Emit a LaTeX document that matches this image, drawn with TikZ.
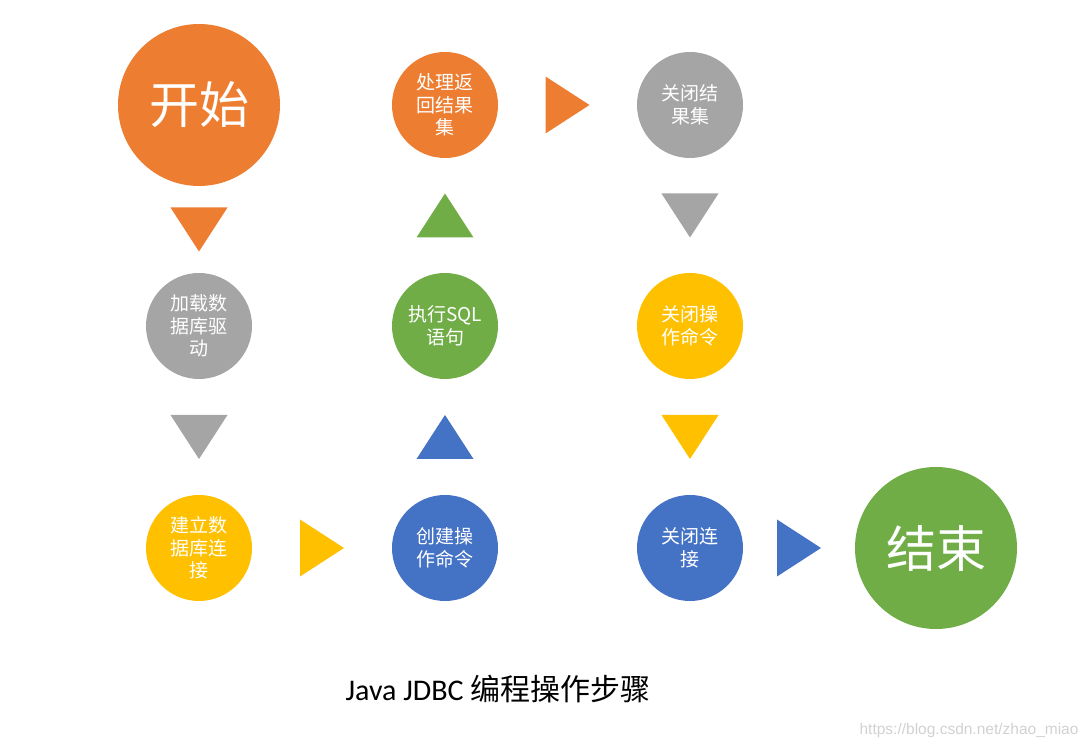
\documentclass[tikz,border=0pt]{standalone}
\usepackage{fontspec}
\setmainfont{Carlito}
\newfontfamily\cjk{Noto Sans CJK SC}
\newfontfamily\markfont{Liberation Sans}
\usetikzlibrary{calc}

\begin{document}
\begin{tikzpicture}[x=1pt, y=1pt,
    stepcircle/.style={circle, fill=#1, minimum size=106pt, inner sep=0pt, text=white,
        align=center, font=\cjk\fontsize{19}{22.5}\selectfont},
    bigcircle/.style={circle, fill=#1, minimum size=162pt, inner sep=0pt, text=white,
        font=\cjk\fontsize{50}{60}\selectfont},
    pics/pointer/.style={code={\fill[#1] (22,0) -- (-22,28.5) -- (-22,-28.5) -- cycle;}}]
    % Define colours
    \definecolor{orangeC}{HTML}{ED7D31}
    \definecolor{grayC}{HTML}{A5A5A5}
    \definecolor{greenC}{HTML}{70AD47}
    \definecolor{yellowC}{HTML}{FFC000}
    \definecolor{blueC}{HTML}{4472C4}

    % Fix the page size
    \useasboundingbox (0,0) rectangle (1087,747);

    % Top row
    \node[bigcircle=orangeC] (start) at (199,642) {开始};
    \node[stepcircle=orangeC] (result) at (445,642) {处理返\\回结果\\集};
    \node[stepcircle=grayC] (closeresult) at (690,642) {关闭结\\果集};

    % Middle row
    \node[stepcircle=grayC] (driver) at (199,421) {加载数\\据库驱\\动};
    \node[stepcircle=greenC] (execute) at (445,421) {执行SQL\\语句};
    \node[stepcircle=yellowC] (closestmt) at (690,421) {关闭操\\作命令};

    % Bottom row
    \node[stepcircle=yellowC] (connect) at (199,199) {建立数\\据库连\\接};
    \node[stepcircle=blueC] (statement) at (445,199) {创建操\\作命令};
    \node[stepcircle=blueC] (closeconn) at (690,199) {关闭连\\接};
    \node[bigcircle=greenC] (finish) at (936,199) {结束};

    % Pointers between the steps
    \pic[rotate=-90] at ($(start.south)!0.5!(driver.north)$) {pointer=orangeC};
    \pic[rotate=-90] at ($(driver.south)!0.5!(connect.north)$) {pointer=grayC};
    \pic at ($(connect.east)!0.5!(statement.west)$) {pointer=yellowC};
    \pic[rotate=90] at ($(statement.north)!0.5!(execute.south)$) {pointer=blueC};
    \pic[rotate=90] at ($(execute.north)!0.5!(result.south)$) {pointer=greenC};
    \pic at ($(result.east)!0.5!(closeresult.west)$) {pointer=orangeC};
    \pic[rotate=-90] at ($(closeresult.south)!0.5!(closestmt.north)$) {pointer=grayC};
    \pic[rotate=-90] at ($(closestmt.south)!0.5!(closeconn.north)$) {pointer=yellowC};
    \pic at ($(closeconn.east)!0.5!(finish.west)$) {pointer=blueC};

    % Caption and watermark
    \node[font=\fontsize{30}{35}\selectfont] (title) at (498,58) {Java JDBC {\cjk 编程操作步骤}};
    \node[anchor=east, text=black!18, font=\markfont\fontsize{15.5}{18}\selectfont] (mark) at (1082,17) {https://blog.csdn.net/zhao\_miao};
\end{tikzpicture}
\end{document}
